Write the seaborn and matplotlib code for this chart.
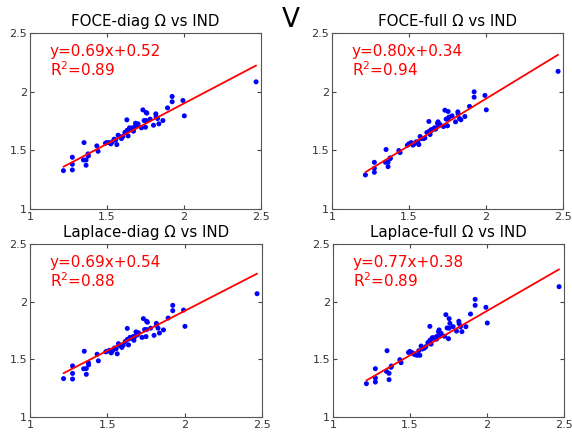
import numpy as np
import pandas as pd
import matplotlib
matplotlib.use("Agg")
import matplotlib.pyplot as plt
import seaborn as sns

# ---- data ----
ind_x = [1.217, 1.275, 1.275, 1.275, 1.351, 1.347, 1.364, 1.364, 1.377, 1.379,
         1.434, 1.442, 1.490, 1.499, 1.514, 1.525, 1.535, 1.546, 1.557, 1.564,
         1.572, 1.581, 1.594, 1.603, 1.616, 1.629, 1.629, 1.637, 1.642, 1.646,
         1.655, 1.666, 1.672, 1.676, 1.685, 1.689, 1.694, 1.702, 1.724, 1.733,
         1.741, 1.750, 1.754, 1.759, 1.754, 1.780, 1.802, 1.817, 1.819, 1.828,
         1.837, 1.863, 1.893, 1.923, 1.923, 1.993, 2.002, 2.468]

foce_diag = [1.327, 1.441, 1.381, 1.333, 1.566, 1.418, 1.418, 1.373, 1.470, 1.452,
             1.538, 1.492, 1.561, 1.566, 1.566, 1.555, 1.572, 1.595, 1.589, 1.549,
             1.629, 1.618, 1.600, 1.618, 1.652, 1.669, 1.760, 1.623, 1.675, 1.692,
             1.680, 1.692, 1.663, 1.692, 1.731, 1.720, 1.709, 1.726, 1.692, 1.845,
             1.754, 1.697, 1.822, 1.817, 1.754, 1.766, 1.714, 1.811, 1.788, 1.771,
             1.726, 1.754, 1.862, 1.959, 1.914, 1.925, 1.794, 2.084]

foce_full = [1.290, 1.398, 1.347, 1.313, 1.507, 1.398, 1.398, 1.361, 1.435, 1.430,
             1.498, 1.481, 1.544, 1.555, 1.566, 1.544, 1.555, 1.572, 1.572, 1.549,
             1.618, 1.600, 1.600, 1.605, 1.652, 1.660, 1.746, 1.635, 1.675, 1.669,
             1.680, 1.692, 1.680, 1.690, 1.731, 1.743, 1.710, 1.720, 1.703, 1.842,
             1.766, 1.709, 1.831, 1.783, 1.770, 1.794, 1.743, 1.828, 1.811, 1.771,
             1.760, 1.788, 1.874, 1.999, 1.953, 1.968, 1.845, 2.173]

laplace_diag = [1.333, 1.443, 1.378, 1.329, 1.570, 1.418, 1.420, 1.370, 1.472, 1.452,
                1.544, 1.487, 1.565, 1.570, 1.578, 1.556, 1.576, 1.598, 1.592, 1.548,
                1.636, 1.620, 1.603, 1.622, 1.655, 1.672, 1.768, 1.625, 1.678, 1.690,
                1.684, 1.697, 1.665, 1.695, 1.738, 1.725, 1.712, 1.730, 1.690, 1.853,
                1.758, 1.697, 1.830, 1.822, 1.758, 1.770, 1.708, 1.812, 1.795, 1.770,
                1.728, 1.755, 1.858, 1.968, 1.922, 1.927, 1.786, 2.069]

laplace_full = [1.289, 1.419, 1.338, 1.303, 1.575, 1.396, 1.379, 1.324, 1.431, 1.442,
                1.497, 1.471, 1.560, 1.569, 1.558, 1.545, 1.540, 1.535, 1.575, 1.535,
                1.615, 1.590, 1.598, 1.610, 1.645, 1.665, 1.786, 1.632, 1.680, 1.688,
                1.685, 1.690, 1.675, 1.700, 1.740, 1.755, 1.712, 1.725, 1.700, 1.887,
                1.772, 1.679, 1.853, 1.812, 1.770, 1.783, 1.745, 1.830, 1.810, 1.783,
                1.740, 1.783, 1.893, 2.020, 1.968, 1.951, 1.815, 2.130]

titles = ["FOCE-diag \u03a9 vs IND", "FOCE-full \u03a9 vs IND",
          "Laplace-diag \u03a9 vs IND", "Laplace-full \u03a9 vs IND"]
slopes = [0.69, 0.80, 0.69, 0.77]
intercepts = [0.52, 0.34, 0.54, 0.38]
r2_values = [0.89, 0.94, 0.88, 0.89]
tick_values = [1, 1.5, 2, 2.5]
tick_labels = ["1", "1.5", "2", "2.5"]
header = "V"

series = [foce_diag, foce_full, laplace_diag, laplace_full]

# ---- plot ----
sns.set_theme(style="white")
plt.rcParams['font.family'] = ['DejaVu Sans']

fig = plt.figure(figsize=(5.72, 4.32), dpi=100)
W, H = 572.0, 432.0
boxes = [(30, 33, 231, 176), (332, 33, 231, 176),
         (30, 244, 232, 173), (333, 244, 231, 173)]

for i, (l, t, w, h) in enumerate(boxes):
    ax = fig.add_axes([l / W, 1 - (t + h) / H, w / W, h / H])
    df = pd.DataFrame({"IND": ind_x, "EST": series[i]})
    sns.scatterplot(data=df, x="IND", y="EST", ax=ax, color="#0000ff",
                    s=13, edgecolor="none", linewidth=0, zorder=3)
    xs = np.array([min(ind_x), max(ind_x)])
    line_df = pd.DataFrame({"x": xs, "y": slopes[i] * xs + intercepts[i]})
    sns.lineplot(data=line_df, x="x", y="y", ax=ax, color="#ff0000",
                 linewidth=1.3, zorder=4)
    ax.set_xlim(1, 2.5)
    ax.set_ylim(1, 2.5)
    ax.set_xticks(tick_values)
    ax.set_xticklabels(tick_labels)
    ax.set_yticks(tick_values)
    ax.set_yticklabels(tick_labels)
    ax.set_xlabel("")
    ax.set_ylabel("")
    ax.tick_params(direction="in", length=3, width=0.8, colors="#444444",
                   labelsize=8, top=True, right=True, bottom=True, left=True,
                   pad=2, labelcolor="#333333")
    for sp in ax.spines.values():
        sp.set_color("#555555")
        sp.set_linewidth(0.8)
    ax.set_title(titles[i], fontsize=10.8, color="black", pad=5)
    ax.text(0.085, 0.935, f"y={slopes[i]:.2f}x+{intercepts[i]:.2f}",
            transform=ax.transAxes, color="#ff0000", fontsize=11, va="top")
    ax.text(0.085, 0.845, f"R$^{{2}}$=%.2f" % r2_values[i],
            transform=ax.transAxes, color="#ff0000", fontsize=11, va="top")

fig.text(291 / W, 1 - 20 / H, header, fontsize=19, ha="center", va="center",
         color="black")

fig.savefig("out.png", dpi=100)
